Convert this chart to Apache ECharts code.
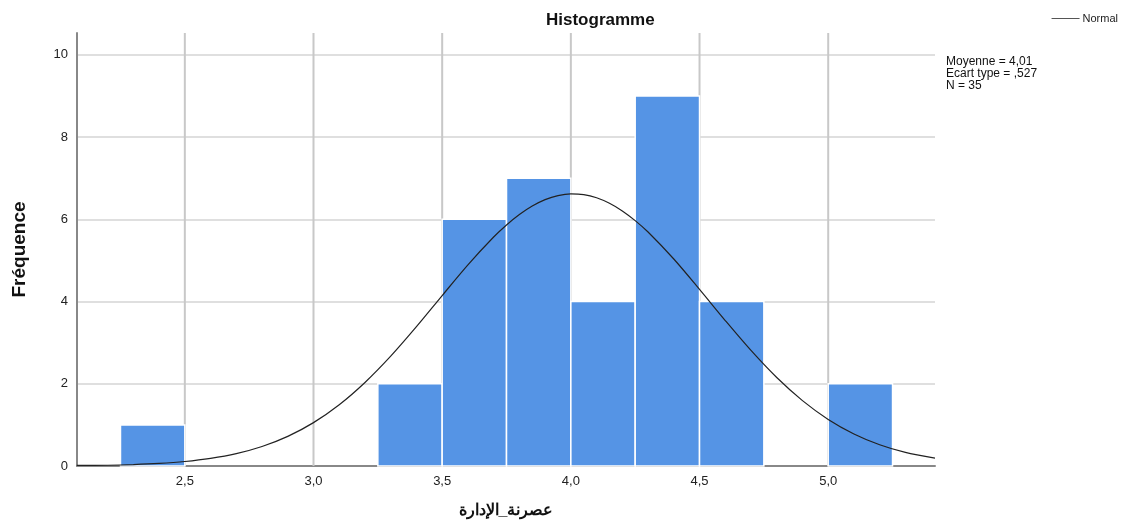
<!DOCTYPE html>
<html><head><meta charset="utf-8">
<script src="https://cdn.jsdelivr.net/npm/echarts@6/dist/echarts.min.js"></script>
<style>html,body{margin:0;padding:0;background:#fff}#c{width:1123px;height:524px}</style>
</head><body><div id="c"></div>
<script>
// Histogram bins (lower edge, upper edge) and counts
var binStarts = [2.25, 3.25, 3.50, 3.75, 4.00, 4.25, 4.50, 5.00];
var binEnds   = [2.50, 3.50, 3.75, 4.00, 4.25, 4.50, 4.75, 5.25];
var counts    = [1, 2, 6, 7, 4, 9, 4, 2];
// Normal curve
var curveX = [2.08,2.2,2.3,2.4,2.5,2.6,2.7,2.8,2.9,3.0,3.1,3.2,3.3,3.4,3.5,3.6,3.7,3.75,3.8,3.85,3.9,3.95,4.0,4.05,4.1,4.15,4.2,4.25,4.3,4.4,4.5,4.6,4.7,4.8,4.9,5.0,5.1,5.2,5.3,5.415];
var curveY = [0.013,0.018,0.034,0.062,0.109,0.185,0.301,0.474,0.720,1.055,1.490,2.032,2.671,3.388,4.145,4.892,5.568,5.861,6.115,6.322,6.478,6.577,6.619,6.601,6.524,6.390,6.204,5.968,5.690,5.034,4.296,3.538,2.810,2.152,1.590,1.133,0.780,0.518,0.331,0.19];
var xTicks = [2.5, 3.0, 3.5, 4.0, 4.5, 5.0];
var xTickLabels = ['2,5','3,0','3,5','4,0','4,5','5,0'];
var yTicks = [0, 2, 4, 6, 8, 10];
var statLines = ['Moyenne = 4,01', 'Ecart type = ,527', 'N = 35'];

var barData = binStarts.map(function(s, i){ return [s, binEnds[i], counts[i]]; });
var lineData = curveX.map(function(x, i){ return [x, curveY[i]]; });
var gridData = xTicks.map(function(v){ return [v]; });

var chart = echarts.init(document.getElementById('c'));
var font = 'Arial, "Liberation Sans", sans-serif';
chart.setOption({
  animation: false,
  backgroundColor: '#fff',
  title: {
    text: 'Histogramme', left: 541, top: 7,
    textStyle: { fontFamily: font, fontSize: 17, fontWeight: 'bold', color: '#111' }
  },
  legend: {
    right: 0, top: 8, itemWidth: 28, itemHeight: 1, itemGap: 4,
    data: [{ name: 'Normal', icon: 'rect' }],
    textStyle: { fontFamily: font, fontSize: 11, color: '#222', padding: [0,0,0,-2] }
  },
  graphic: [{
    type: 'text', left: 946, top: 56,
    style: { text: statLines.join('\n'), font: '12px Arial, "Liberation Sans", sans-serif', fill: '#111', lineHeight: 12 }
  }],
  grid: { left: 77, right: 188, top: 33, bottom: 57 },
  xAxis: {
    type: 'value', min: 2.081, max: 5.415,
    name: 'عصرنة_الإدارة', nameLocation: 'middle', nameGap: 37,
    nameTextStyle: { fontFamily: font, fontSize: 16, fontWeight: 'bold', color: '#111' },
    axisLine: { show: true, lineStyle: { color: '#888', width: 2 } },
    axisTick: { show: false, customValues: xTicks },
    axisLabel: {
      customValues: xTicks, margin: 9,
      formatter: function(v){ var i = xTicks.indexOf(Math.round(v*10)/10); return i >= 0 ? xTickLabels[i] : ''; },
      fontFamily: font, fontSize: 13, color: '#222'
    },
    splitLine: { show: false }
  },
  yAxis: {
    type: 'value', min: 0, max: 10.53, interval: 2,
    name: 'Fréquence', nameLocation: 'middle', nameGap: 48,
    nameTextStyle: { fontFamily: '"Liberation Sans Narrow", Arial, sans-serif', fontSize: 19, fontWeight: 'bold', color: '#111' },
    axisLine: { show: true, lineStyle: { color: '#888', width: 2 } },
    axisTick: { show: false },
    axisLabel: {
      showMaxLabel: false, margin: 9,
      formatter: function(v){ return yTicks.indexOf(v) >= 0 ? String(v) : ''; },
      fontFamily: font, fontSize: 13, color: '#222'
    },
    splitLine: { show: true, showMinLine: false, showMaxLine: false, lineStyle: { color: '#d4d4d4', width: 1.5 } }
  },
  series: [
    {
      type: 'custom', name: 'gridX', silent: true, z: 1,
      renderItem: function(params, api){
        var cs = params.coordSys;
        var x = api.coord([api.value(0), 0])[0];
        return {
          type: 'line',
          shape: { x1: x, y1: cs.y, x2: x, y2: cs.y + cs.height },
          style: { stroke: '#c8c8c8', lineWidth: 2 }
        };
      },
      encode: { x: 0 },
      data: gridData
    },
    {
      type: 'custom', name: 'Histogram', z: 2,
      renderItem: function(params, api){
        var p0 = api.coord([api.value(0), api.value(2)]);
        var p1 = api.coord([api.value(1), 0]);
        return {
          type: 'rect',
          shape: { x: p0[0], y: p0[1], width: p1[0]-p0[0], height: p1[1]-p0[1] },
          style: { fill: '#5594E5', stroke: '#fff', lineWidth: 1.5 }
        };
      },
      encode: { x: [0, 1], y: 2 },
      data: barData
    },
    {
      type: 'line', name: 'Normal', z: 3, smooth: 0.3, showSymbol: false,
      lineStyle: { color: '#222', width: 1.2 }, itemStyle: { color: '#555' },
      data: lineData
    }
  ]
});
</script></body></html>
